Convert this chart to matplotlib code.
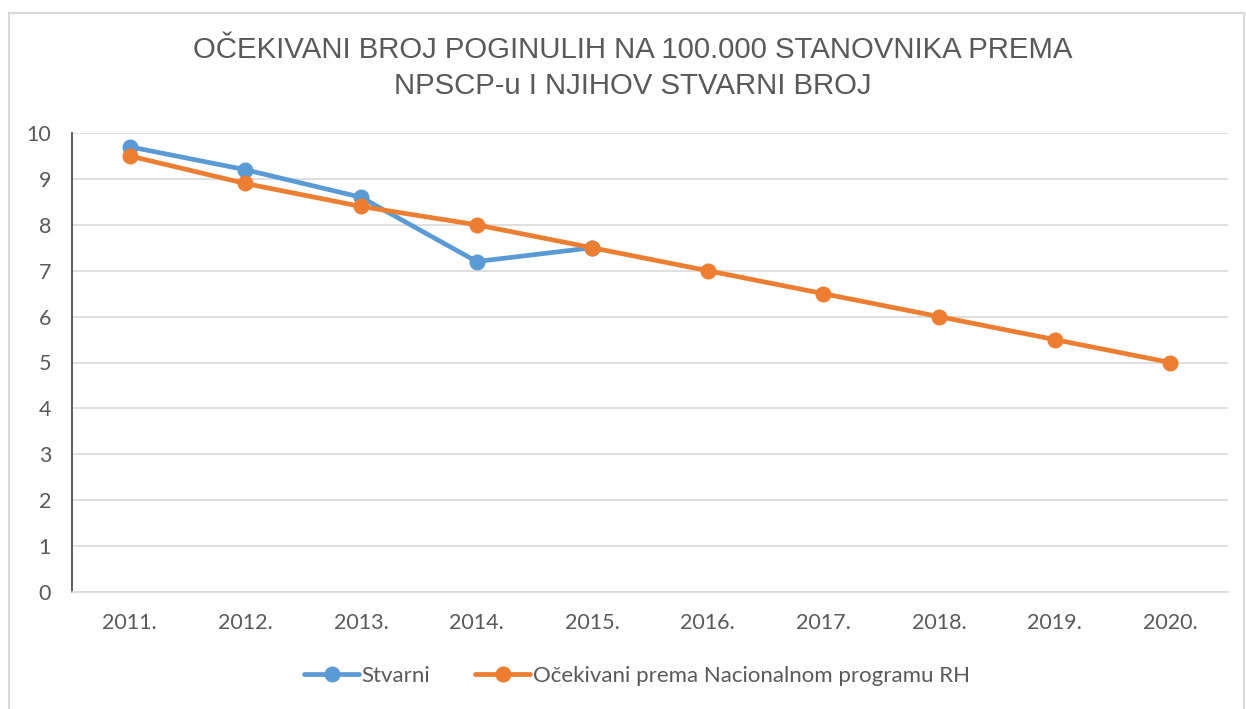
import matplotlib
matplotlib.use("Agg")
import matplotlib.pyplot as plt
from matplotlib.patches import Rectangle

years = ["2011.", "2012.", "2013.", "2014.", "2015.", "2016.", "2017.", "2018.", "2019.", "2020."]
stvarni = [9.7, 9.2, 8.6, 7.2, 7.5]
ocekivani = [9.5, 8.9, 8.4, 8.0, 7.5, 7.0, 6.5, 6.0, 5.5, 5.0]
y_ticks = list(range(0, 11))
title = "OČEKIVANI BROJ POGINULIH NA 100.000 STANOVNIKA PREMA\nNPSCP-u I NJIHOV STVARNI BROJ"
label_s = "Stvarni"
label_o = "Očekivani prema Nacionalnom programu RH"

BLUE = "#5B9BD5"
ORANGE = "#ED7D31"
TXT = "#595959"
GRID = "#D9D9D9"

W, H = 1246, 709
fig = plt.figure(figsize=(W / 100, H / 100), dpi=100)
fig.patches.append(Rectangle((9 / W, -0.05), (1244 - 9) / W, 1.05 - 13 / H + 0.0,
                             transform=fig.transFigure, fill=False,
                             edgecolor=GRID, linewidth=1.5))

ax = fig.add_axes([72 / W, 1 - 592 / H, (1228 - 72) / W, (592 - 133) / H])
xs = list(range(len(years)))
ax.plot(xs[:len(stvarni)], stvarni, color=BLUE, lw=3.4, marker="o", ms=10.5,
        label=label_s, solid_capstyle="round", zorder=3)
ax.plot(xs, ocekivani, color=ORANGE, lw=3.4, marker="o", ms=10.5,
        label=label_o, solid_capstyle="round", zorder=4)

ax.set_xlim(-0.5, len(years) - 0.5)
ax.set_ylim(0, 10)
ax.set_yticks(y_ticks)
ax.set_xticks(xs)
ax.set_xticklabels(years)
ax.grid(axis="y", color=GRID, lw=1.2)
ax.set_axisbelow(True)
for s in ["top", "right"]:
    ax.spines[s].set_visible(False)
ax.spines["bottom"].set_color(GRID)
ax.spines["bottom"].set_linewidth(1.2)
ax.spines["left"].set_color("#404040")
ax.spines["left"].set_linewidth(1.2)
ax.tick_params(axis="both", length=0, labelsize=15.5, labelcolor=TXT)
ax.tick_params(axis="y", pad=15)
ax.tick_params(axis="x", pad=15)
for lab in ax.get_xticklabels() + ax.get_yticklabels():
    lab.set_fontfamily("Lato")

fig.text(0.5 + 0.008, 1 - 68 / H, title, ha="center", va="center",
         fontsize=21.2, color=TXT, family="Liberation Sans", linespacing=1.38)

leg = fig.legend(loc="center", bbox_to_anchor=(0.511, 1 - 676 / H), ncol=2,
                 frameon=False, handlelength=2.5, columnspacing=2.0,
                 handletextpad=0.1, prop={"family": "Lato", "size": 16})
for t in leg.get_texts():
    t.set_color(TXT)

fig.savefig("out.png", dpi=100)
